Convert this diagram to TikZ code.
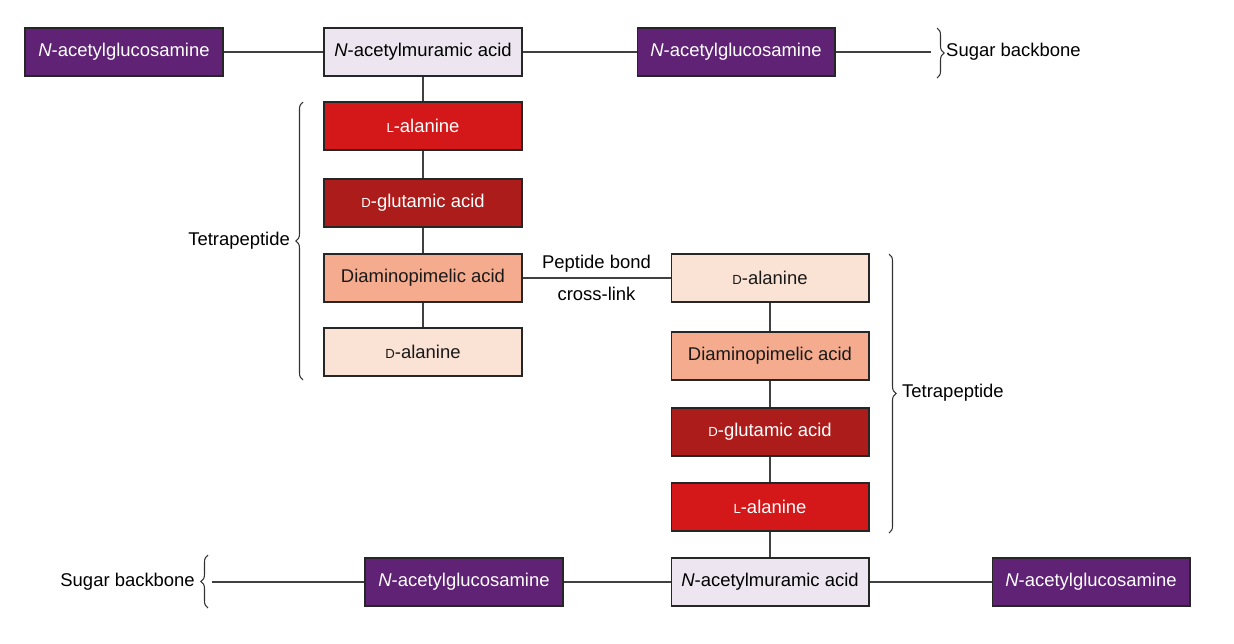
\documentclass[tikz,border=0pt]{standalone}
\usepackage{fontspec}
\setmainfont{Liberation Sans}
\usetikzlibrary{decorations.pathreplacing}

\definecolor{nagpurple}{RGB}{96,34,116}
\definecolor{nampale}{RGB}{237,230,241}
\definecolor{lalared}{RGB}{212,24,26}
\definecolor{dglured}{RGB}{172,28,26}
\definecolor{dapsalmon}{RGB}{245,172,142}
\definecolor{dalapeach}{RGB}{250,226,212}

% small capital letter for L/D prefixes
\newcommand{\smc}[1]{{\fontsize{7.5}{9}\selectfont #1}}

\begin{document}
\begin{tikzpicture}[x=0.02cm,y=-0.02cm,
  font=\fontsize{10.5}{12.6}\selectfont,
  box/.style={draw=black!85,line width=0.6pt,minimum width=3.96cm,minimum height=0.96cm,inner sep=0pt},
  nag/.style={box,fill=nagpurple,text=white},
  nam/.style={box,fill=nampale,text=black},
  lala/.style={box,fill=lalared,text=white},
  dglu/.style={box,fill=dglured,text=white},
  dap/.style={box,fill=dapsalmon,text=black!90},
  dala/.style={box,fill=dalapeach,text=black!90},
  link/.style={draw=black!75,line width=0.7pt},
  brc/.style={draw=black!80,line width=0.6pt,decorate,decoration={brace,amplitude=4pt}}]

  % Canvas
  \fill[white] (0,0) rectangle (1234,643);
  \useasboundingbox (0,0) rectangle (1234,643);

  % Top sugar backbone
  \node[nag] (nagA) at (124,52) {\textit{N}-acetylglucosamine};
  \node[nam] (namA) at (423,52) {\textit{N}-acetylmuramic acid};
  \node[nag] (nagB) at (736,52) {\textit{N}-acetylglucosamine};
  \coordinate (sbA) at (931,52);
  \draw[link] (nagA) -- (namA) -- (nagB) -- (sbA);

  % Left tetrapeptide
  \node[lala] (lalaA) at (423,126) {\smc{L}-alanine};
  \node[dglu] (dgluA) at (423,203) {\smc{D}-glutamic acid};
  \node[dap]  (dapA)  at (423,278) {Diaminopimelic acid};
  \node[dala] (dalaA) at (423,352) {\smc{D}-alanine};
  \draw[link] (namA) -- (lalaA) -- (dgluA) -- (dapA) -- (dalaA);

  % Right tetrapeptide
  \node[dala] (dalaB) at (770,278) {\smc{D}-alanine};
  \node[dap]  (dapB)  at (770,356) {Diaminopimelic acid};
  \node[dglu] (dgluB) at (770,432) {\smc{D}-glutamic acid};
  \node[lala] (lalaB) at (770,507) {\smc{L}-alanine};

  % Bottom sugar backbone
  \node[nag] (nagC) at (464,582) {\textit{N}-acetylglucosamine};
  \node[nam] (namB) at (770,582) {\textit{N}-acetylmuramic acid};
  \node[nag] (nagD) at (1091,582) {\textit{N}-acetylglucosamine};
  \coordinate (sbB) at (212,582);
  \draw[link] (sbB) -- (nagC) -- (namB) -- (nagD);
  \draw[link] (dalaB) -- (dapB) -- (dgluB) -- (lalaB) -- (namB);

  % Cross-link
  \draw[link] (dapA) -- node[align=center,font=\fontsize{10.5}{18}\selectfont] (xlink)
    {Peptide bond\\cross-link} (dalaB);

  % Braces and labels
  \draw[brc] (937,28) -- (937,78);
  \node[anchor=west] (sbTxtA) at (940,52) {Sugar backbone};
  \draw[brc] (208,608) -- (208,555);
  \node[anchor=east] (sbTxtB) at (201,582) {Sugar backbone};
  \draw[brc] (303,380) -- (303,102);
  \node[anchor=east] (tpTxtA) at (296,241) {Tetrapeptide};
  \draw[brc] (889,254) -- (889,533);
  \node[anchor=west] (tpTxtB) at (896,393) {Tetrapeptide};
\end{tikzpicture}
\end{document}
